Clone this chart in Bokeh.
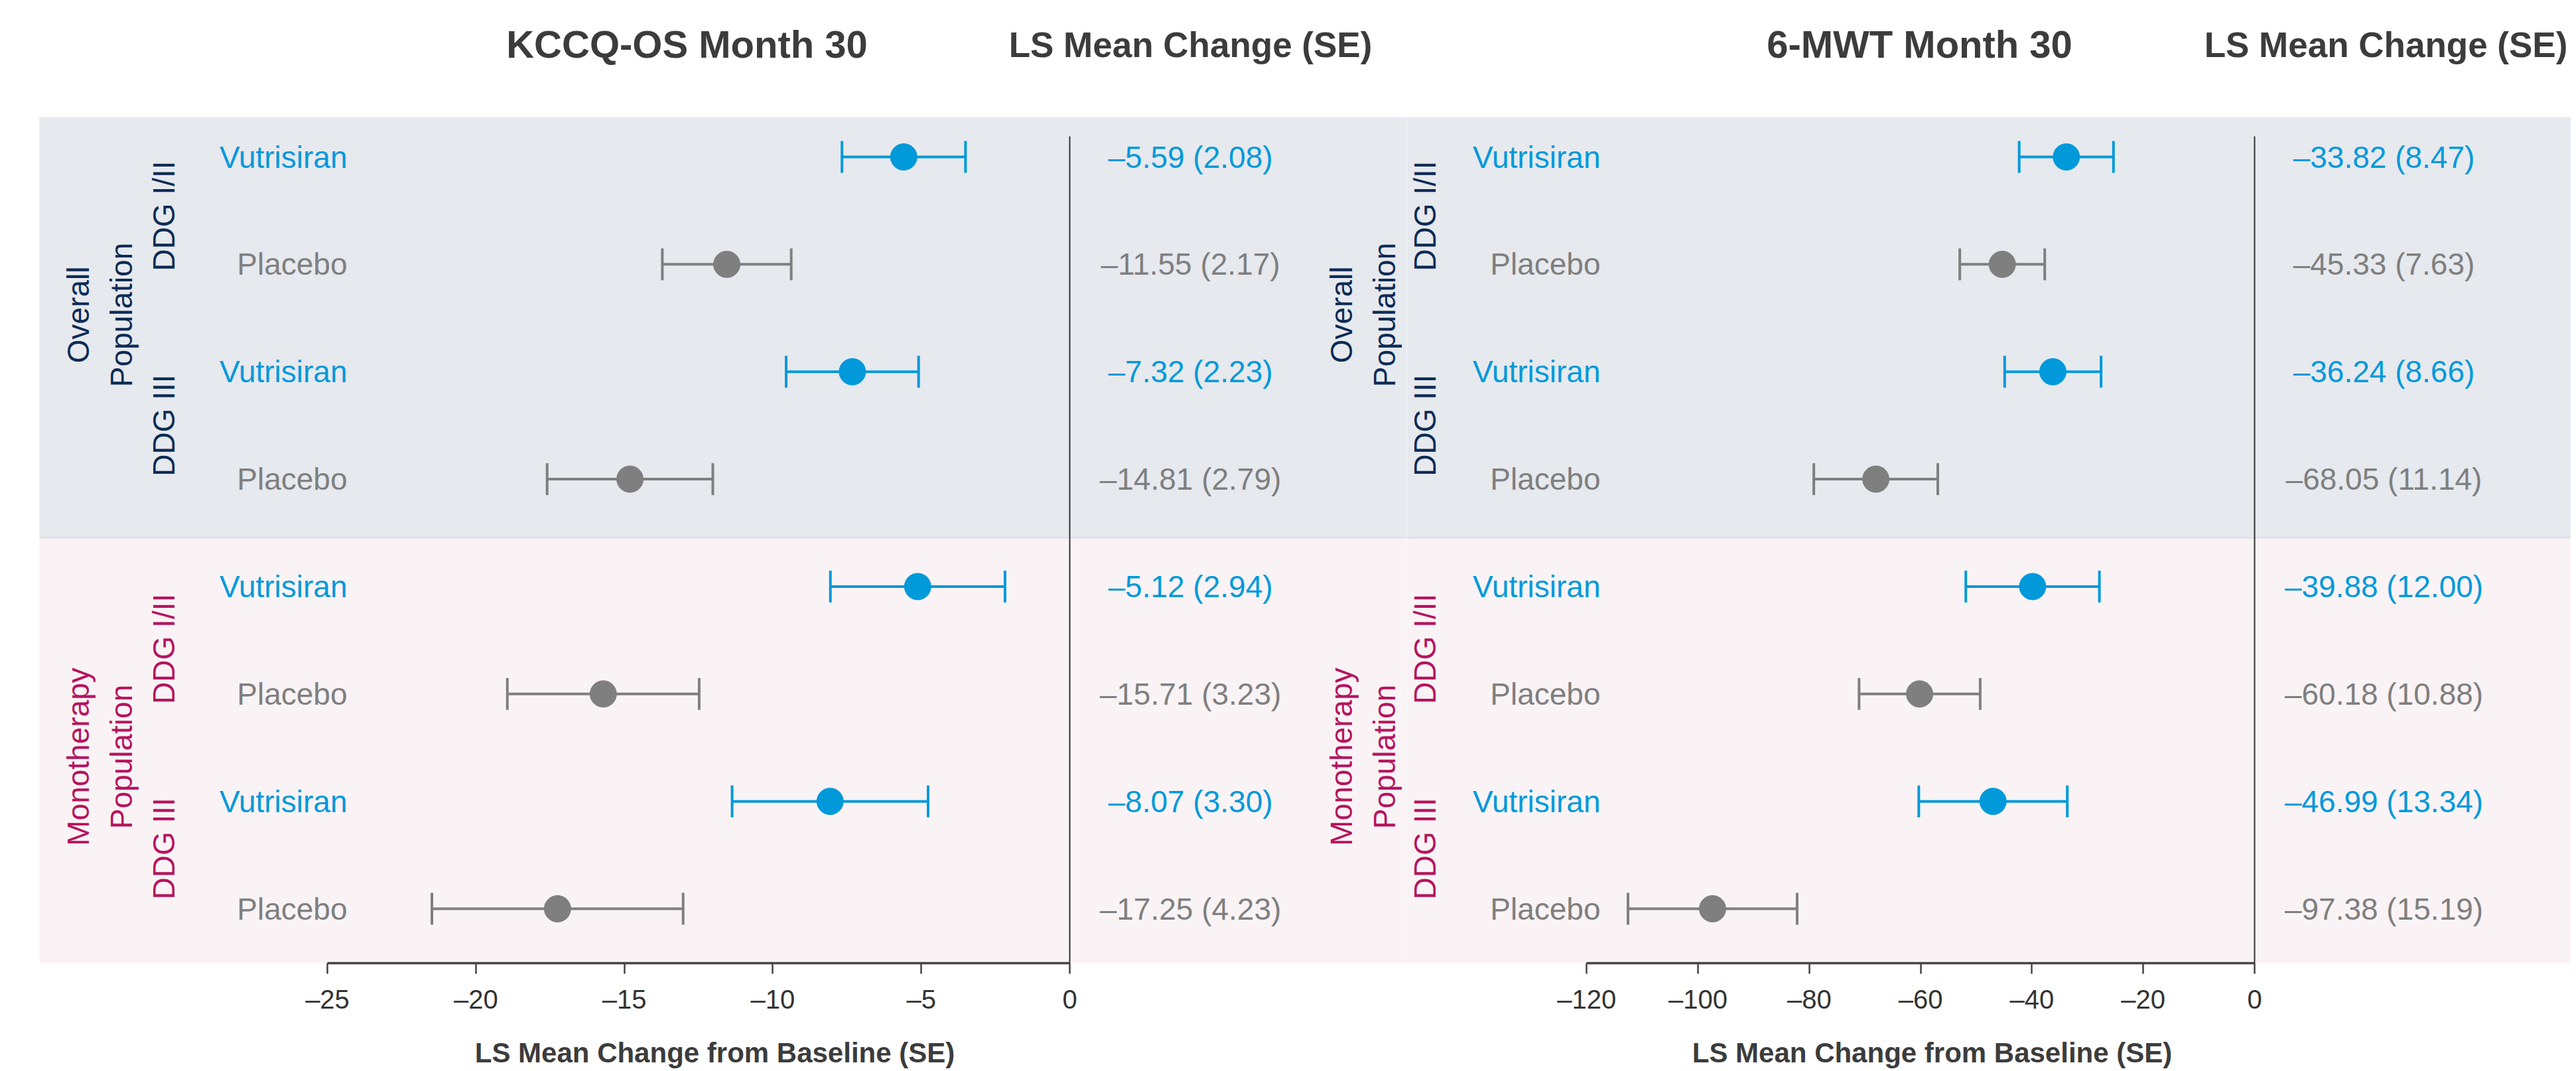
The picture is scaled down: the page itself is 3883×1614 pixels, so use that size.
import numpy as np
from bokeh.plotting import figure
from bokeh.layouts import row, column
from bokeh.models import Range1d, FixedTicker, ColumnDataSource
from bokeh.core.properties import value
from bokeh.embed import file_html
from bokeh.resources import INLINE

# ---------------- data ----------------
treatments = ["Vutrisiran", "Placebo", "Vutrisiran", "Placebo",
              "Vutrisiran", "Placebo", "Vutrisiran", "Placebo"]
kccq_mean = [-5.59, -11.55, -7.32, -14.81, -5.12, -15.71, -8.07, -17.25]
kccq_se = [2.08, 2.17, 2.23, 2.79, 2.94, 3.23, 3.30, 4.23]
mwt_mean = [-33.82, -45.33, -36.24, -68.05, -39.88, -60.18, -46.99, -97.38]
mwt_se = [8.47, 7.63, 8.66, 11.14, 12.00, 10.88, 13.34, 15.19]
populations = ["Overall\nPopulation", "Monotherapy\nPopulation"]
ddg_groups = ["DDG I/II", "DDG III"]
kccq_ticks = [-25, -20, -15, -10, -5, 0]
mwt_ticks = [-120, -100, -80, -60, -40, -20, 0]
titles = ["KCCQ-OS Month 30", "6-MWT Month 30"]
header = "LS Mean Change (SE)"
axis_title = "LS Mean Change from Baseline (SE)"

# ---------------- style ----------------
FONT = value("Liberation Sans")
BLUE = "#0099da"
GRAY = "#7f7f7f"
NAVY = "#0b2b55"
MAGENTA = "#b5145f"
DARK = "#3c3c3c"
BAND_TOP = "#e6e9ee"
BAND_BOT = "#f9f3f5"
BAND_EDGE = "#dcdfe5"

H_MAIN = 1540
H_STRIP = 74
ROW_PX = 161.86
ROW0_PY = 236.0
FRAME_BOTTOM_PY = 1451.0
BORDER_BOTTOM = int(H_MAIN - FRAME_BOTTOM_PY)
SPLIT = 2120.0
RIGHT_EDGE = 3875.0


def py2y(py):
    return (py - ROW0_PY) / ROW_PX


rows = list(range(len(treatments)))
colors = [BLUE if t == "Vutrisiran" else GRAY for t in treatments]


def base_figure(zero_px, unit_px, canvas_l, frame_l, frame_r):
    def px2x(px):
        return (px - zero_px) / unit_px

    p = figure(width=int(round(frame_r - canvas_l)), height=H_MAIN, output_backend="svg",
               toolbar_location=None,
               x_range=Range1d(px2x(frame_l), px2x(frame_r)),
               y_range=Range1d(py2y(FRAME_BOTTOM_PY), py2y(0)),
               y_axis_location=None, x_axis_location="below",
               min_border_left=int(round(frame_l - canvas_l)), min_border_right=0,
               min_border_top=0, min_border_bottom=BORDER_BOTTOM)
    p.outline_line_color = None
    p.grid.visible = False
    p.background_fill_color = "white"
    p.border_fill_color = "white"
    return p, px2x


def draw_bands(p, px2x, band_l, band_r):
    p.quad(left=[px2x(band_l)] * 2, right=[px2x(band_r)] * 2,
           top=[py2y(176), py2y(810)], bottom=[py2y(810), py2y(FRAME_BOTTOM_PY + 30)],
           fill_color=[BAND_TOP, BAND_BOT], line_color=None)
    p.segment(x0=[px2x(band_l)], x1=[px2x(band_r)], y0=[py2y(810)], y1=[py2y(810)],
              line_color=BAND_EDGE, line_width=2)


def draw_panel(p, px2x, means, ses, ticks, bounds, title, pos):
    lo = [m - s for m, s in zip(means, ses)]
    hi = [m + s for m, s in zip(means, ses)]
    labels = ["\u2013%.2f (%.2f)" % (abs(m), s) for m, s in zip(means, ses)]
    src = ColumnDataSource(dict(y=rows, m=means, lo=lo, hi=hi, c=colors,
                                t=treatments, lab=labels))

    # zero line
    p.segment(x0=[0], x1=[0], y0=[py2y(205)], y1=[py2y(FRAME_BOTTOM_PY + 5)],
              line_color="#333333", line_width=2)

    # error bars (mean +/- SE)
    p.segment(x0="lo", x1="hi", y0="y", y1="y", source=src, line_color="c", line_width=4)
    p.scatter(x="lo", y="y", source=src, marker="dash", angle=np.pi / 2, size=48,
              line_color="c", line_width=4)
    p.scatter(x="hi", y="y", source=src, marker="dash", angle=np.pi / 2, size=48,
              line_color="c", line_width=4)
    p.scatter(x="m", y="y", source=src, marker="circle", size=40, fill_color="c",
              line_color="c", line_width=1)

    p.text(x=px2x(pos["lab"]), y="y", text="t", source=src, text_color="c",
           text_font=FONT, text_font_size="46px", text_align="right",
           text_baseline="middle")
    p.text(x=px2x(pos["val"]), y="y", text="lab", source=src, text_color="c",
           text_font=FONT, text_font_size="46px", text_align="center",
           text_baseline="middle")

    p.text(x=[px2x(pos["ddg"])] * 4, y=[0.55, 2.5, 4.58, 6.44],
           text=ddg_groups * 2, text_color=[NAVY, NAVY, MAGENTA, MAGENTA],
           text_font=FONT, text_font_size="46px", angle=np.pi / 2,
           text_align="center", text_baseline="middle")

    p.text(x=[px2x(pos["title"])], y=[py2y(66)], text=[title], text_color=DARK,
           text_font=FONT, text_font_size="58px", text_font_style="bold",
           text_align="center", text_baseline="middle")
    p.text(x=[px2x(pos["head"])], y=[py2y(67)], text=[header], text_color=DARK,
           text_font=FONT, text_font_size="53px", text_font_style="bold",
           text_align="center", text_baseline="middle")

    ax = p.xaxis[0]
    ax.ticker = FixedTicker(ticks=ticks)
    ax.bounds = bounds
    ax.major_label_overrides = {t: ("\u2013%d" % abs(t) if t < 0 else "0") for t in ticks}
    ax.axis_line_width = 3.5
    ax.axis_line_color = "#444444"
    ax.major_tick_line_width = 2.5
    ax.major_tick_line_color = "#444444"
    ax.major_tick_out = 16
    ax.major_tick_in = 0
    ax.minor_tick_line_color = None
    ax.major_label_text_font = "Liberation Sans"
    ax.major_label_text_font_size = "40px"
    ax.major_label_text_color = "#333333"
    ax.major_label_standoff = 16


def draw_population(p, px2x, px):
    p.text(x=[px2x(px)] * 2, y=[1.47, 5.585], text=populations,
           text_color=[NAVY, MAGENTA], text_font=FONT, text_font_size="46px",
           angle=np.pi / 2, text_align="center", text_baseline="middle",
           text_line_height=1.25)


left, lx = base_figure(1612.0, 44.76, 0.0, 34.0, SPLIT)
right, rx = base_figure(3398.0, 8.39, SPLIT, SPLIT, RIGHT_EDGE)

draw_bands(left, lx, 59, SPLIT + 50)
draw_bands(right, rx, SPLIT - 50, RIGHT_EDGE + 50)

draw_panel(left, lx, kccq_mean, kccq_se, kccq_ticks, (-25, 0), titles[0],
           dict(lab=523, val=1794, ddg=246, title=1035, head=1794))
draw_population(left, lx, 150)
draw_population(left, lx, 2054)   # right panel's population labels fall in this canvas
draw_panel(right, rx, mwt_mean, mwt_se, mwt_ticks, (-120, 0), titles[1],
           dict(lab=2412, val=3593, ddg=2147, title=2893, head=3596))

# strip holding the two x-axis titles
strip = figure(width=int(RIGHT_EDGE), height=H_STRIP, output_backend="svg",
               toolbar_location=None, x_range=Range1d(0, RIGHT_EDGE),
               y_range=Range1d(H_MAIN + H_STRIP, H_MAIN),
               x_axis_location=None, y_axis_location=None,
               min_border=0)
strip.outline_line_color = None
strip.grid.visible = False
strip.text(x=[1077, 2912], y=[1586, 1586], text=[axis_title, axis_title],
           text_color=DARK, text_font=FONT, text_font_size="42px",
           text_font_style="bold", text_align="center", text_baseline="middle")

layout = column(row(left, right), strip)
open("out.html", "w").write(file_html(layout, INLINE))
